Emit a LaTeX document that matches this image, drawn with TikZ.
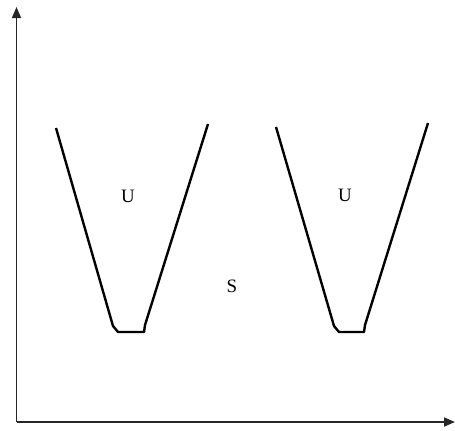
\documentclass[tikz,border=0pt]{standalone}
\usepackage{fontspec}
\setmainfont{Liberation Serif}
\usetikzlibrary{arrows.meta}
\begin{document}
\begin{tikzpicture}[x=1bp,y=-1bp,
  axis/.style={line width=1.7bp,draw=black!85,-{Triangle[length=11bp,width=9bp]}},
  well/.style={line width=2.4bp,line join=round},
  lbl/.style={font=\fontsize{19}{19}\selectfont,inner sep=0pt}]
\useasboundingbox (0,0) rectangle (455,430);
\coordinate (o) at (16.5,422);
\coordinate (ytip) at (16.5,7);
\coordinate (xtip) at (455,422);
\draw[axis] (o) -- (ytip);
\draw[axis] (o) -- (xtip);
\draw[well] (56,128) -- (113,326) -- (118,332) -- (144,332) -- (145,325) -- (208,124);
\draw[well] (276,127) -- (334,326) -- (339,332) -- (364,332) -- (365,325) -- (428,123);
\node[lbl] (u1) at (128,196) {U};
\node[lbl] (u2) at (345,195) {U};
\node[lbl] (s) at (232,286) {S};
\end{tikzpicture}
\end{document}
